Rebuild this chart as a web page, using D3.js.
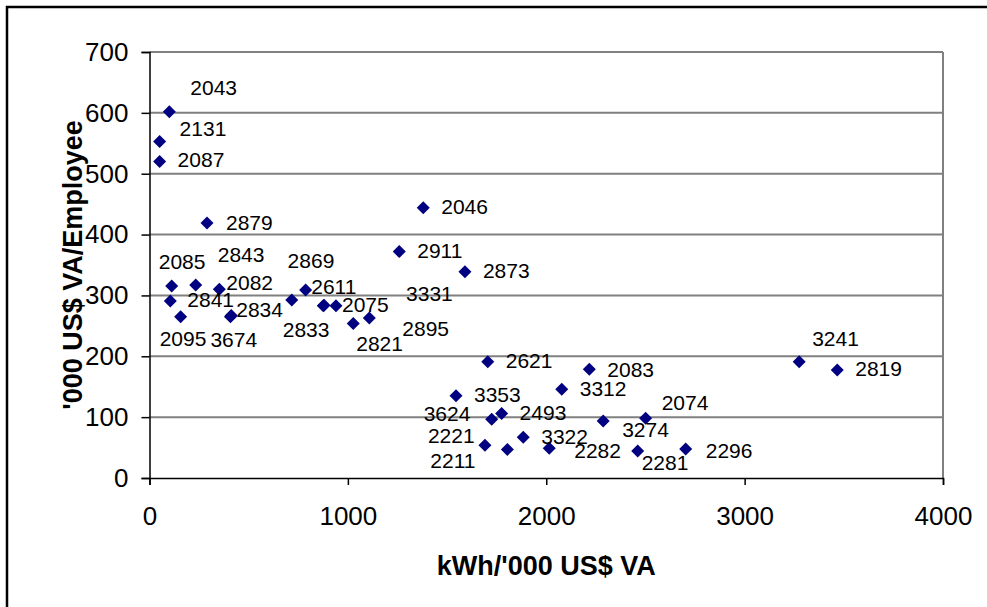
<!DOCTYPE html>
<html><head><meta charset="utf-8">
<script src="https://cdn.jsdelivr.net/npm/d3@7"></script>
<style>body{margin:0;background:#fff}svg{display:block;font-family:"Liberation Sans",Arial,sans-serif}</style>
</head><body><svg id="c" width="987" height="607"></svg>
<script>
const labels = ["2043","2131","2087","2879","2046","2911","2873","2085","2843","2082","2841","2095","2834","3674","2833","2869","2611","3331","2075","2821","2895","2621","2083","3353","3312","2493","3624","3322","3274","2074","2221","2211","2282","2281","2296","3241","2819"];
const kwhPerVA = [100,51,51,290,1380,1259,1590,112,233,352,105,157,412,408,717,787,876,880,940,1027,1108,1705,2217,1545,2078,1775,1725,1884,2287,2501,1691,1804,2015,2461,2703,3275,3467];
const vaPerEmployee = [602,553,520,419,444,372,339,315.5,317,310,291,265,267,265,292.5,309,283,284,283,254,263,191,178.6,135,145.7,106,96.5,67,93.7,98,53.7,47,48.8,44.4,47.7,191,177.5];
// label offsets (px) from each marker, as placed in the original chart
const labelDx = [21,20,18,19,18,18,18,-13,22,7,17,-21,5,-20,-9,-18,-12,82,6,3,33,18,18,18,18,18,-68,18,19,16,-57,-77,25,4,20,13,18];
const labelDy = [-24,-13,-2,0,-1,-1,-1,-24,-30,-7,-1,22,-6,23,30,-29,-19,-12,-1,20,11,-1,0,-1,-1,-1,-6,-1,9,-16,-10,11,2,12,2,-23,-1];
const xTicks = [0,1000,2000,3000,4000];
const yTicks = [0,100,200,300,400,500,600,700];
const xTitle = "kWh/'000 US$ VA";
const yTitle = "'000 US$ VA/Employee";

const svg = d3.select("#c");
const L = 149.5, R = 943, T = 52, B = 478;
const x = d3.scaleLinear().domain([0,4000]).range([L,R]);
const y = d3.scaleLinear().domain([0,700]).range([B,T]);

// outer frame
svg.append("rect").attr("x",7).attr("y",7).attr("width",1000).attr("height",700)
  .attr("fill","none").attr("stroke","#000").attr("stroke-width",2.5);

// gridlines
svg.append("g").selectAll("line").data(yTicks.filter(d=>d>0)).join("line")
  .attr("x1",L).attr("x2",R).attr("y1",d=>y(d)).attr("y2",d=>y(d))
  .attr("stroke","#808080").attr("stroke-width",2);
// right border
svg.append("line").attr("x1",R).attr("x2",R).attr("y1",T).attr("y2",B)
  .attr("stroke","#808080").attr("stroke-width",2);

// axes
const fs = 26;
const gx = svg.append("g").attr("transform",`translate(0,${B})`)
  .call(d3.axisBottom(x).tickValues(xTicks).tickSize(7).tickPadding(22).tickFormat(d3.format("d")));
const gy = svg.append("g").attr("transform",`translate(${L},0)`)
  .call(d3.axisLeft(y).tickValues(yTicks).tickSize(8).tickPadding(13).tickFormat(d3.format("d")));
[gx,gy].forEach(g=>{
  g.select(".domain").attr("stroke","#000").attr("stroke-width",1.5);
  g.selectAll(".tick line").attr("stroke","#000").attr("stroke-width",1.5);
  g.selectAll(".tick text").attr("font-size",fs).attr("fill","#000")
    .attr("font-family","'Liberation Sans',Arial,sans-serif");
});

// titles
svg.append("text").attr("x",(L+R)/2).attr("y",566).attr("dy","0.35em")
  .attr("text-anchor","middle").attr("font-weight","bold").attr("font-size",27).text(xTitle);
svg.append("text").attr("transform",`translate(73,${(T+B)/2}) rotate(-90)`).attr("dy","0.35em")
  .attr("text-anchor","middle").attr("font-weight","bold").attr("font-size",27).text(yTitle);

// points
const data = labels.map((l,i)=>({l, x:kwhPerVA[i], y:vaPerEmployee[i], dx:labelDx[i], dy:labelDy[i]}));
const h = 6.5;
svg.append("g").selectAll("path").data(data).join("path")
  .attr("transform",d=>`translate(${x(d.x)},${y(d.y)})`)
  .attr("d",`M0,${-h}L${h},0L0,${h}L${-h},0Z`).attr("fill","#000080");
svg.append("g").selectAll("text").data(data).join("text")
  .attr("x",d=>x(d.x)+d.dx).attr("y",d=>y(d.y)+d.dy).attr("dy","0.35em")
  .attr("font-size",21).attr("fill","#000").text(d=>d.l);
</script></body></html>
